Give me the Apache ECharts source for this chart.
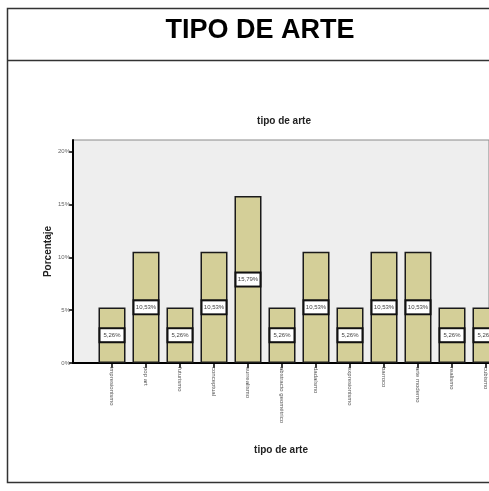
<!DOCTYPE html>
<html>
<head>
<meta charset="utf-8">
<script src="https://cdn.jsdelivr.net/npm/echarts@6/dist/echarts.min.js"></script>
<style>
  html, body { margin: 0; padding: 0; background: #fff; }
  #main { width: 489px; height: 491px; }
</style>
</head>
<body>
<div id="main"></div>
<script>
// tipo de arte - porcentaje por categoria
const categories = ['impresionismo', 'pop art', 'futurismo', 'conceptual', 'surrealismo',
  'abstracto geométrico', 'dadaísmo', 'expresionismo', 'barroco', 'arte moderno', 'realismo', 'cubismo'];
const percents = [5.26, 10.53, 5.26, 10.53, 15.79, 5.26, 10.53, 5.26, 10.53, 10.53, 5.26, 5.26];
const yTicks = [0, 5, 10, 15, 20];
const xPositions = categories.map((c, i) => i + 1);

const font = 'Liberation Sans, Arial, sans-serif';

myChart = echarts.init(document.getElementById('main'));
myChart.setOption({
  animation: false,
  textStyle: { fontFamily: font },
  title: [
    { text: 'TIPO DE ARTE', left: 255, top: 12, textAlign: 'center',
      textStyle: { fontSize: 27, fontWeight: 'bold', color: '#000', fontFamily: font } },
    { text: 'tipo de arte', left: 279, top: 111, textAlign: 'center',
      textStyle: { fontSize: 10, fontWeight: 'bold', color: '#222', fontFamily: font } }
  ],
  graphic: [
    { type: 'rect', shape: { x: 7.5, y: 8.5, width: 500, height: 474 },
      style: { fill: 'none', stroke: '#333', lineWidth: 1.5 }, z: 100 },
    { type: 'line', shape: { x1: 7, y1: 60.5, x2: 489, y2: 60.5 },
      style: { stroke: '#333', lineWidth: 1.5 }, z: 100 }
  ],
  grid: {
    left: 73, top: 140, bottom: 128, right: 0,
    show: true, backgroundColor: '#eeeeee', borderColor: '#8a8a8a', borderWidth: 1
  },
  xAxis: {
    type: 'value',
    min: -0.147, max: 12.088,
    splitLine: { show: false },
    axisLine: { show: true, onZero: false, lineStyle: { color: '#000', width: 2 } },
    axisTick: { show: true, length: 5, customValues: xPositions, lineStyle: { color: '#000', width: 1.5 } },
    axisLabel: {
      customValues: xPositions,
      formatter: v => categories[v - 1] || '',
      rotate: -90, fontSize: 6, color: '#555', margin: 4
    },
    name: 'tipo de arte', nameLocation: 'middle', nameGap: 82, nameMoveOverlap: false,
    nameTextStyle: { fontSize: 10, fontWeight: 'bold', color: '#222' }
  },
  yAxis: {
    type: 'value',
    min: 0, max: 21.1,
    splitLine: { show: false },
    axisLine: { show: true, onZero: false, lineStyle: { color: '#000', width: 2 } },
    axisTick: { show: true, length: 4, customValues: yTicks, lineStyle: { color: '#000', width: 1.5 } },
    axisLabel: { customValues: yTicks, formatter: '{value}%', fontSize: 6, color: '#666', margin: 3 },
    name: 'Porcentaje', nameLocation: 'middle', nameGap: 20, nameRotate: 90, nameMoveOverlap: false,
    nameTextStyle: { fontSize: 10, fontWeight: 'bold', color: '#222' }
  },
  series: [{
    type: 'bar',
    data: percents.map((p, i) => [xPositions[i], p]),
    barWidth: 27,
    clip: true,
    itemStyle: { color: '#d4cf98', borderColor: '#1a1a1a', borderWidth: 1.5 },
    label: {
      show: true, position: 'inside',
      formatter: p => p.value[1].toFixed(2).replace('.', ',') + '%',
      fontSize: 6, color: '#444',
      backgroundColor: '#fff', borderColor: '#111', borderWidth: 2,
      width: 21, align: 'center', padding: [3, 1]
    }
  }]
});
</script>
</body>
</html>
